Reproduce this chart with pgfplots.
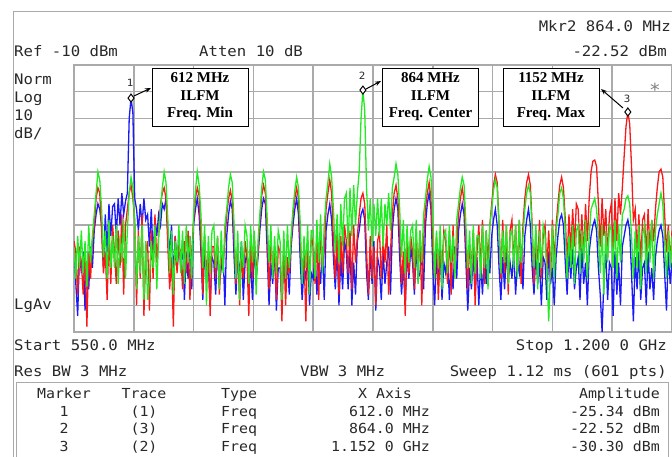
\documentclass[border=0pt]{standalone}
\usepackage{pgfplots}
\pgfplotsset{compat=1.18}
\usepackage{pgfplotstable}
\usepackage{fontspec}
\usetikzlibrary{arrows.meta}
\setmainfont{Liberation Serif}
\newfontfamily\scr[FakeStretch=1.08]{DejaVu Sans Mono}
\definecolor{trblue}{RGB}{25,25,250}
\definecolor{trred}{RGB}{250,25,25}
\definecolor{trgreen}{RGB}{35,235,35}
\definecolor{grd}{RGB}{170,170,170}
\definecolor{txt}{RGB}{40,40,40}

% frequency (MHz), trace 1 (blue), trace 2 (red), trace 3 (green), dBm
\pgfplotstableread{
f b r g
550 -76 -76 -78
552 -92 -80 -90
554 -104 -96 -74
556 -80 -78 -86
558 -88 -84 -72
560 -80 -96 -88
562 -102 -78 -76
564 -84 -108 -93
566 -94 -80 -70
568 -78 -90 -84
570 -86 -76 -74
572 -72 -70 -66
574 -66 -60 -58
576 -62 -56 -50
578 -64 -58 -53
580 -70 -72 -64
582 -86 -88 -82
584 -66 -80 -72
586 -80 -98 -90
588 -62 -74 -68
590 -74 -92 -86
592 -63 -70 -74
594 -62 -80 -86
596 -74 -92 -70
598 -60 -72 -92
600 -70 -86 -74
602 -58 -66 -84
604 -66 -96 -68
606 -61 -70 -90
608 -58 -64 -72
610 -30 -58 -58
612 -22.4 -55 -52
614 -28 -60 -56
616 -60 -68 -70
618 -64 -100 -94
620 -72 -72 -74
622 -62 -90 -88
624 -70 -66 -70
626 -60 -104 -98
628 -68 -80 -76
630 -66 -76 -98
632 -78 -102 -90
634 -64 -72 -76
636 -82 -90 -86
638 -68 -66 -70
640 -74 -84 -94
642 -66 -74 -74
644 -70 -62 -64
646 -62 -58 -56
648 -64 -56 -50
650 -60 -60 -54
652 -72 -78 -68
654 -80 -94 -88
656 -70 -82 -72
658 -90 -108 -96
660 -74 -74 -76
662 -86 -88 -84
664 -76 -78 -70
666 -86 -80 -88
668 -76 -94 -72
670 -98 -76 -92
672 -80 -88 -70
674 -90 -72 -84
676 -74 -98 -74
678 -94 -80 -90
680 -70 -68 -66
682 -64 -60 -57
684 -60 -56 -50
686 -66 -59 -55
688 -80 -76 -66
690 -98 -96 -86
692 -78 -74 -70
694 -92 -88 -100
696 -84 -80 -74
698 -100 -104 -88
700 -82 -78 -72
702 -84 -78 -70
704 -96 -90 -86
706 -78 -74 -74
708 -92 -96 -94
710 -86 -82 -72
712 -80 -86 -88
714 -100 -76 -70
716 -74 -66 -64
718 -66 -60 -56
720 -61 -57 -51
722 -64 -61 -54
724 -82 -74 -70
726 -96 -92 -90
728 -80 -78 -72
730 -90 -100 -98
732 -76 -82 -76
734 -98 -90 -86
736 -84 -76 -70
738 -80 -82 -74
740 -94 -104 -92
742 -84 -76 -70
744 -98 -90 -84
746 -78 -74 -72
748 -90 -88 -96
750 -82 -80 -76
752 -72 -68 -66
754 -64 -59 -56
756 -60 -55 -50
758 -62 -58 -53
760 -80 -72 -68
762 -100 -94 -84
764 -84 -76 -70
766 -92 -86 -90
768 -78 -80 -74
770 -102 -98 -88
772 -86 -78 -72
774 -86 -80 -76
776 -98 -106 -98
778 -80 -78 -72
780 -92 -100 -90
782 -84 -82 -70
784 -96 -88 -86
786 -78 -76 -74
788 -70 -66 -64
790 -64 -60 -57
792 -60 -56 -52
794 -66 -60 -56
796 -84 -76 -70
798 -98 -90 -92
800 -86 -80 -74
802 -90 -106 -86
804 -80 -78 -70
806 -100 -88 -96
808 -88 -74 -72
810 -90 -78 -72
812 -80 -92 -90
814 -96 -74 -68
816 -84 -98 -84
818 -92 -70 -66
820 -78 -86 -88
822 -98 -80 -70
824 -72 -64 -60
826 -66 -58 -54
828 -62 -53 -47
830 -68 -58 -52
832 -82 -76 -64
834 -94 -90 -80
836 -78 -72 -66
838 -100 -96 -84
840 -82 -74 -62
842 -94 -88 -78
844 -76 -70 -60
846 -80 -76 -58
848 -94 -88 -78
850 -78 -72 -56
852 -100 -94 -74
854 -84 -70 -55
856 -96 -84 -70
858 -76 -74 -58
860 -72 -66 -50
862 -66 -60 -30
864 -64 -58 -19.4
866 -68 -62 -27
868 -88 -80 -56
870 -98 -96 -72
872 -80 -74 -60
874 -92 -90 -78
876 -76 -78 -62
878 -102 -100 -74
880 -82 -76 -60
882 -86 -72 -74
884 -98 -90 -60
886 -80 -76 -78
888 -92 -84 -62
890 -84 -70 -70
892 -78 -96 -58
894 -96 -80 -72
896 -72 -66 -56
898 -64 -58 -52
900 -60 -55 -47
902 -64 -60 -51
904 -82 -74 -64
906 -96 -92 -82
908 -84 -80 -68
910 -100 -104 -88
912 -80 -76 -70
914 -90 -88 -84
916 -78 -74 -72
918 -84 -80 -70
920 -96 -94 -86
922 -78 -74 -68
924 -90 -88 -92
926 -88 -72 -72
928 -80 -100 -84
930 -94 -76 -66
932 -70 -64 -60
934 -62 -58 -53
936 -58 -54 -48
938 -64 -60 -52
940 -86 -78 -66
942 -100 -90 -90
944 -82 -74 -72
946 -92 -98 -86
948 -78 -80 -70
950 -98 -86 -94
952 -84 -72 -74
954 -88 -76 -72
956 -80 -92 -88
958 -98 -72 -70
960 -84 -96 -84
962 -94 -70 -74
964 -78 -88 -90
966 -90 -78 -68
968 -72 -66 -62
970 -66 -60 -56
972 -62 -56 -52
974 -66 -61 -55
976 -84 -76 -70
978 -102 -94 -86
980 -86 -78 -72
982 -94 -86 -92
984 -80 -72 -70
986 -96 -100 -88
988 -82 -80 -74
990 -100 -70 -74
992 -84 -86 -90
994 -96 -68 -70
996 -80 -92 -86
998 -92 -72 -72
1000 -78 -84 -94
1002 -88 -70 -70
1004 -74 -62 -64
1006 -68 -55 -57
1008 -64 -51 -53
1010 -70 -54 -56
1012 -86 -70 -70
1014 -98 -90 -88
1016 -82 -68 -72
1018 -94 -88 -84
1020 -80 -70 -70
1022 -90 -96 -92
1024 -84 -72 -74
1026 -90 -68 -72
1028 -80 -84 -86
1030 -96 -70 -70
1032 -84 -88 -90
1034 -88 -68 -68
1036 -78 -92 -84
1038 -94 -70 -74
1040 -74 -60 -64
1042 -68 -54 -58
1044 -64 -51 -55
1046 -70 -55 -58
1048 -86 -70 -72
1050 -96 -92 -86
1052 -80 -72 -70
1054 -92 -86 -94
1056 -84 -68 -72
1058 -100 -90 -86
1060 -82 -74 -70
1062 -84 -70 -74
1064 -98 -86 -88
1066 -80 -72 -106
1068 -92 -90 -84
1070 -86 -68 -70
1072 -100 -84 -90
1074 -82 -70 -72
1076 -74 -62 -66
1078 -68 -55 -58
1080 -66 -52 -56
1082 -70 -56 -60
1084 -84 -68 -72
1086 -96 -84 -90
1088 -80 -66 -74
1090 -90 -80 -86
1092 -78 -64 -70
1094 -94 -78 -92
1096 -86 -62 -72
1098 -82 -64 -70
1100 -98 -80 -88
1102 -78 -66 -72
1104 -92 -82 -84
1106 -84 -62 -68
1108 -100 -76 -90
1110 -80 -60 -74
1112 -74 -50 -64
1114 -70 -46 -62
1116 -68 -45.6 -60
1118 -72 -48 -64
1120 -86 -62 -74
1122 -96 -78 -88
1124 -110 -60 -70
1126 -90 -74 -96
1128 -80 -64 -72
1130 -98 -82 -84
1132 -84 -66 -70
1134 -86 -62 -72
1136 -104 -80 -86
1138 -80 -60 -68
1140 -96 -76 -90
1142 -84 -58 -70
1144 -100 -66 -84
1146 -78 -56 -66
1148 -74 -44 -64
1150 -70 -33 -60
1152 -68 -27.6 -59
1154 -72 -32 -62
1156 -88 -48 -74
1158 -106 -68 -90
1160 -82 -64 -72
1162 -94 -80 -86
1164 -80 -66 -70
1166 -98 -84 -94
1168 -86 -68 -74
1170 -84 -66 -70
1172 -100 -82 -88
1174 -80 -64 -72
1176 -94 -80 -84
1178 -86 -68 -68
1180 -98 -76 -90
1182 -82 -64 -72
1184 -76 -56 -66
1186 -72 -50 -62
1188 -70 -49 -58
1190 -74 -52 -62
1192 -88 -66 -76
1194 -102 -80 -90
1196 -80 -70 -72
1198 -92 -84 -86
1200 -84 -72 -74
}\spec

\begin{document}
\begin{tikzpicture}[x=1bp,y=1bp]
\path[use as bounding box] (0,0) rectangle (672,457);
% outer frame
\draw[grd, line width=1bp] (13,0) -- (13,445) -- (680,445);

\begin{axis}[
  at={(74bp,125bp)}, anchor=south west,
  scale only axis, width=598bp, height=267bp,
  xmin=550, xmax=1200, ymin=-110, ymax=-10,
  xtick={550,615,680,745,810,875,940,1005,1070,1135,1200},
  ytick={-110,-100,-90,-80,-70,-60,-50,-40,-30,-20,-10},
  xticklabels={}, yticklabels={},
  major tick length=0pt,
  grid=major,
  grid style={grd, line width=1.5bp},
  axis line style={grd, line width=1.5bp},
  clip=true,
]
\addplot[trblue, line width=1.3bp, sharp plot] table[x=f, y=b] {\spec};
\addplot[trred, line width=1.3bp, sharp plot] table[x=f, y=r] {\spec};
\addplot[trgreen, line width=1.3bp, sharp plot] table[x=f, y=g] {\spec};
\addplot[only marks, mark=diamond*, mark size=4bp,
  mark options={fill=white, draw=black, line width=1bp}]
  coordinates {(612,-22.4) (864,-19.4) (1152,-27.6)};
\end{axis}

% header texts
\begin{scope}[every node/.style={inner sep=0pt, text=txt, font=\scr\fontsize{14.5bp}{17bp}\selectfont}]
\node[anchor=base east] at (671,425) {Mkr2 864.0 MHz};
\node[anchor=base east] at (667,400) {-22.52 dBm};
\node[anchor=base west] at (14,400) {Ref -10 dBm};
\node[anchor=base west] at (199,400) {Atten 10 dB};
\node[anchor=base west] at (14,372) {Norm};
\node[anchor=base west] at (14,354) {Log};
\node[anchor=base west] at (14,336) {10};
\node[anchor=base west] at (14,318) {dB/};
\node[anchor=base west] at (14,147) {LgAv};
\node[anchor=base west] at (14,106) {Start 550.0 MHz};
\node[anchor=base east] at (667,106) {Stop 1.200 0 GHz};
\node[anchor=base west] at (14,80) {Res BW 3 MHz};
\node[anchor=base west] at (300,80) {VBW 3 MHz};
\node[anchor=base east] at (667,80) {Sweep 1.12 ms (601 pts)};
\end{scope}

% marker table
\draw[grd, line width=1bp] (16,-10) rectangle (668,74);
\begin{scope}[every node/.style={inner sep=0pt, text=txt, font=\scr\fontsize{13.8bp}{16bp}\selectfont}]
\node[anchor=base] at (64,58) {Marker};
\node[anchor=base] at (144,58) {Trace};
\node[anchor=base west] at (221,58) {Type};
\node[anchor=base] at (385,58) {X Axis};
\node[anchor=base east] at (660,58) {Amplitude};
\node[anchor=base] at (64,40.5) {1};
\node[anchor=base] at (144,40.5) {(1)};
\node[anchor=base west] at (221,40.5) {Freq};
\node[anchor=base east] at (430,40.5) {612.0 MHz};
\node[anchor=base east] at (660,40.5) {-25.34 dBm};
\node[anchor=base] at (64,23) {2};
\node[anchor=base] at (144,23) {(3)};
\node[anchor=base west] at (221,23) {Freq};
\node[anchor=base east] at (430,23) {864.0 MHz};
\node[anchor=base east] at (660,23) {-22.52 dBm};
\node[anchor=base] at (64,5.5) {3};
\node[anchor=base] at (144,5.5) {(2)};
\node[anchor=base west] at (221,5.5) {Freq};
\node[anchor=base east] at (430,5.5) {1.152 0 GHz};
\node[anchor=base east] at (660,5.5) {-30.30 dBm};
\end{scope}

% marker numbers and star
\begin{scope}[every node/.style={inner sep=0pt, text=txt, font=\scr\fontsize{10bp}{11bp}\selectfont}]
\node at (130,374) {1};
\node at (362,381) {2};
\node at (627,358) {3};
\end{scope}
\node[inner sep=0pt, text=gray, font=\scr\fontsize{18bp}{18bp}\selectfont] at (655,367) {*};

% callouts
\begin{scope}[every node/.style={draw=black, line width=0.8bp, fill=white, inner sep=0pt,
   minimum width=96bp, minimum height=58bp, align=center,
   font=\bfseries\fontsize{15bp}{17.5bp}\selectfont}]
\node at (200,360) {612 MHz\\ILFM\\Freq. Min};
\node at (430.5,360) {864 MHz\\ILFM\\Freq. Center};
\node at (551,360) {1152 MHz\\ILFM\\Freq. Max};
\end{scope}
\draw[-{Stealth[length=6bp,width=4.5bp]}, line width=1bp] (134,361) -- (151,369);
\draw[-{Stealth[length=6bp,width=4.5bp]}, line width=1bp] (366,368) -- (381,376);
\draw[-{Stealth[length=6bp,width=4.5bp]}, line width=1bp] (623,349) -- (601,368);
\end{tikzpicture}
\end{document}
